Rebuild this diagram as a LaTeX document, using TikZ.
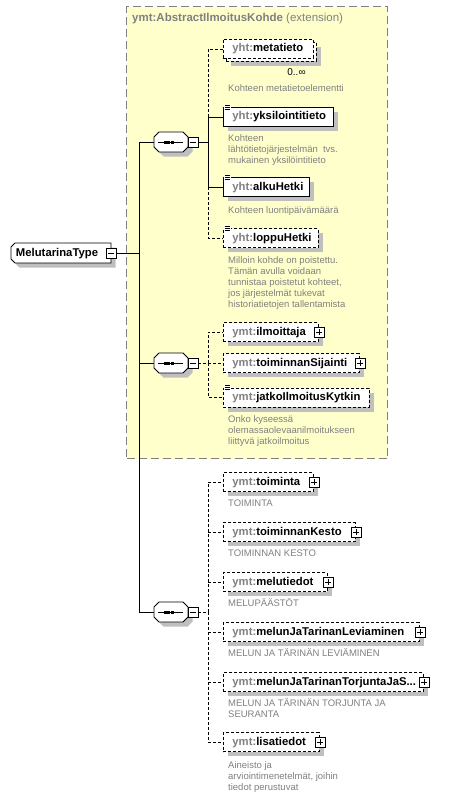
\documentclass[tikz,border=0pt]{standalone}
\usepackage{fontspec}
\setmainfont{Liberation Sans}
\definecolor{extfill}{HTML}{FFFFCC}
\definecolor{docgray}{HTML}{808080}
\colorlet{shadowc}{black!25}
\definecolor{extborder}{HTML}{808080}
\newcommand\lbl[2]{\textbf{\textcolor{docgray}{#1:}#2}}
\newcommand\elnode[6]{%
  \fill[shadowc] (227.5,#3-5) rectangle (227.5+#4,#3+14);
  \node[#1, minimum width=#4pt] (#2) at (223,#3) {\makebox[\dimexpr#4pt-18pt\relax][l]{\lbl{#5}{#6}}};}
\newcommand\docicon[1]{%
  \fill[white] ([xshift=1pt,yshift=2.5pt]#1.north west) rectangle ([xshift=7.5pt,yshift=-3.5pt]#1.north west);
  \foreach \k in {1.8,-0.2,-2.2}{\draw[line width=0.8pt] ([xshift=1.5pt,yshift=\k pt]#1.north west) -- ([xshift=6.8pt,yshift=\k pt]#1.north west);}}
\newcommand\seqshadow[1]{%
  \fill[shadowc] (163.5,#1-5.5) -- (187.5,#1-5.5) -- (192.5,#1-0.5) -- (192.5,#1+9.5) -- (187.5,#1+14.5) -- (163.5,#1+14.5) -- (158.5,#1+9.5) -- (158.5,#1-0.5) -- cycle;}
\newcommand\seqdraw[1]{%
  \draw[line width=0.9pt, fill=white] ([xshift=5pt]#1.north west) -- ([xshift=-5pt]#1.north east) -- ([yshift=-5pt]#1.north east)
    -- ([yshift=5pt]#1.south east) -- ([xshift=-5pt]#1.south east) -- ([xshift=5pt]#1.south west) -- ([yshift=5pt]#1.south west)
    -- ([yshift=-5pt]#1.north west) -- cycle;
  \draw[line width=0.9pt] ([xshift=4pt]#1.west) -- ([xshift=-5pt]#1.east);
  \foreach \dx in {-6,-2.5,1}{\fill ([xshift=\dx pt]#1.center) +(-1.5pt,-1.5pt) rectangle +(1.5pt,1.5pt);}}
\tikzset{
  dashedline/.style={dash pattern=on 3pt off 2pt},
  elbase/.style={draw=black, line width=0.9pt, fill=white, anchor=west, minimum height=19pt,
    inner xsep=9pt, inner ysep=0pt, font=\fontsize{11.3}{13}\selectfont, text height=8.5pt, text depth=2.5pt},
  elsolid/.style={elbase},
  elopt/.style={elbase, dashedline},
  doctext/.style={anchor=north west, inner sep=0pt, align=left, text=docgray, font=\fontsize{9.5}{11}\selectfont},
  conn/.style={draw=black, line width=0.9pt},
  optconn/.style={conn, dashedline},
  plusbox/.style={draw=black, line width=0.8pt, fill=white, minimum size=10pt, inner sep=0pt,
    path picture={\draw[line width=0.8pt] ([xshift=2pt]path picture bounding box.west) -- ([xshift=-2pt]path picture bounding box.east);
      \draw[line width=0.8pt] ([yshift=-2pt]path picture bounding box.north) -- ([yshift=2pt]path picture bounding box.south);}},
  minusbox/.style={draw=black, line width=0.8pt, fill=white, minimum size=10pt, inner sep=0pt,
    path picture={\draw[line width=0.8pt] ([xshift=2pt]path picture bounding box.west) -- ([xshift=-2pt]path picture bounding box.east);}},
  seqbox/.style={rectangle, minimum width=34pt, minimum height=20pt, inner sep=0pt, outer sep=0pt, anchor=west},
  mtshape/.style={rectangle, fill=white, minimum width=100pt, minimum height=20pt, inner xsep=0pt, inner ysep=0pt, outer sep=0pt,
    font=\fontsize{11.3}{13}\selectfont, text height=8.5pt, text depth=2.5pt},
  exttitle/.style={anchor=west, inner sep=0pt, text=docgray, font=\fontsize{11.5}{13}\selectfont},
}
\begin{document}
\begin{tikzpicture}[x=1pt,y=-1pt]
\useasboundingbox (0,0) rectangle (451,797);
\fill[white] (0,0) rectangle (451,797);
\node[draw=extborder, fill=extfill, line width=1.1pt, dash pattern=on 8pt off 4pt, anchor=north west,
  minimum width=261pt, minimum height=452pt, inner sep=0pt] (ext) at (126,6) {};
\node[exttitle] (exttl) at (132,19) {\textbf{ymt:AbstractIlmoitusKohde} (extension)};
% root
\fill[shadowc] (15.5,247.5) -- (115.5,247.5) -- (115.5,267.5) -- (19.5,267.5) -- (15.5,263.5) -- (15.5,251.5) -- cycle;
\node[mtshape] (mt) at (61,253) {\makebox[90pt][l]{\textbf{MelutarinaType}}};
\draw[line width=0.9pt] ([xshift=4pt]mt.north west) -- (mt.north east) -- (mt.south east) -- ([xshift=4pt]mt.south west)
  -- ([yshift=4pt]mt.south west) -- ([yshift=-4pt]mt.north west) -- cycle;
\node[minusbox] (mtm) at (111,253) {};
\coordinate (trunk) at (139,253);
% compositors
\seqshadow{142}
\seqshadow{363}
\seqshadow{612}
\node[seqbox] (seq1) at (154,142) {};
\node[seqbox] (seq2) at (154,363) {};
\node[seqbox] (seq3) at (154,612) {};
\seqdraw{seq1}
\seqdraw{seq2}
\seqdraw{seq3}
\node[minusbox] (m1) at (193,142) {};
\node[minusbox] (m2) at (193,363) {};
\node[minusbox] (m3) at (193,612) {};
\coordinate (b1) at (208,142);
\coordinate (b2) at (208,363);
\coordinate (b3) at (208,612);
% elements
\fill[shadowc] (230.5,47) rectangle (320.5,66);
\node[elopt, minimum width=90pt] (metaback) at (226,52) {};
\node[elopt, minimum width=90pt] (meta) at (223,49) {\makebox[72pt][l]{\lbl{yht}{metatieto}}};
\elnode{elsolid}{yks}{117}{110}{yht}{yksilointitieto}
\elnode{elsolid}{alku}{187}{86}{yht}{alkuHetki}
\elnode{elopt}{loppu}{238}{95}{yht}{loppuHetki}
\elnode{elopt}{ilmo}{332}{95}{ymt}{ilmoittaja}
\elnode{elopt}{sij}{363}{136}{ymt}{toiminnanSijainti}
\elnode{elopt}{jatko}{397.5}{146}{ymt}{jatkoIlmoitusKytkin}
\elnode{elopt}{toim}{482}{90}{ymt}{toiminta}
\elnode{elopt}{kesto}{532}{132}{ymt}{toiminnanKesto}
\elnode{elopt}{melu}{582}{104}{ymt}{melutiedot}
\elnode{elopt}{lev}{632}{196}{ymt}{melunJaTarinanLeviaminen}
\elnode{elopt}{torj}{682}{200}{ymt}{melunJaTarinanTorjuntaJaS...}
\elnode{elopt}{lisa}{742}{96}{ymt}{lisatiedot}
\docicon{yks}
\docicon{alku}
\docicon{loppu}
\docicon{jatko}
% plus boxes
\node[plusbox] (ilmoP) at (ilmo.east) {};
\node[plusbox] (sijP) at (sij.east) {};
\node[plusbox] (toimP) at (toim.east) {};
\node[plusbox] (kestoP) at (kesto.east) {};
\node[plusbox] (meluP) at (melu.east) {};
\node[plusbox] (levP) at (lev.east) {};
\node[plusbox] (torjP) at (torj.east) {};
\node[plusbox] (lisaP) at (lisa.east) {};
% multiplicity
\node[font=\fontsize{10}{12}\selectfont, inner sep=0pt] (metamult) at (296.5,72) {0..∞};
% documentation
\node[doctext] (metadoc) at (228,83.3) {\strut Kohteen metatietoelementti};
\node[doctext] (yksdoc) at (228,133.3) {\strut Kohteen\\lähtötietojärjestelmän\hspace{2.5pt} tvs.\\mukainen yksilöintitieto};
\node[doctext] (alkudoc) at (228,205.3) {\strut Kohteen luontipäivämäärä};
\node[doctext] (loppudoc) at (228,255.3) {\strut Milloin kohde on poistettu.\\Tämän avulla voidaan\\tunnistaa poistetut kohteet,\\jos järjestelmät tukevat\\historiatietojen tallentamista};
\node[doctext] (jatkodoc) at (228,414.3) {\strut Onko kyseessä\\olemassaolevaanilmoitukseen\\liittyvä jatkoilmoitus};
\node[doctext] (toimdoc) at (228,498.3) {\strut TOIMINTA};
\node[doctext] (kestodoc) at (228,548.3) {\strut TOIMINNAN KESTO};
\node[doctext] (meludoc) at (228,598.3) {\strut MELUPÄÄSTÖT};
\node[doctext] (levdoc) at (228,648.3) {\strut MELUN JA TÄRINÄN LEVIÄMINEN};
\node[doctext] (torjdoc) at (228,698.3) {\strut MELUN JA TÄRINÄN TORJUNTA JA\\SEURANTA};
\node[doctext] (lisadoc) at (228,760.3) {\strut Aineisto ja\\arviointimenetelmät, joihin\\tiedot perustuvat};
% connectors
\draw[conn] (mtm.east) -- (trunk) |- (seq1.west);
\draw[conn] (mtm.east) -- (trunk) |- (seq2.west);
\draw[conn] (mtm.east) -- (trunk) |- (seq3.west);
\draw[optconn] (m1.east) -- (b1) |- (meta.west);
\draw[optconn] (m1.east) -- (b1) |- (loppu.west);
\draw[conn] (m1.east) -- (b1) |- (yks.west);
\draw[conn] (m1.east) -- (b1) |- (alku.west);
\draw[optconn] (m2.east) -- (b2) |- (ilmo.west);
\draw[optconn] (m2.east) -- (b2) |- (sij.west);
\draw[optconn] (m2.east) -- (b2) |- (jatko.west);
\draw[optconn] (m3.east) -- (b3) |- (toim.west);
\draw[optconn] (m3.east) -- (b3) |- (kesto.west);
\draw[optconn] (m3.east) -- (b3) |- (melu.west);
\draw[optconn] (m3.east) -- (b3) |- (lev.west);
\draw[optconn] (m3.east) -- (b3) |- (torj.west);
\draw[optconn] (m3.east) -- (b3) |- (lisa.west);
\end{tikzpicture}
\end{document}
